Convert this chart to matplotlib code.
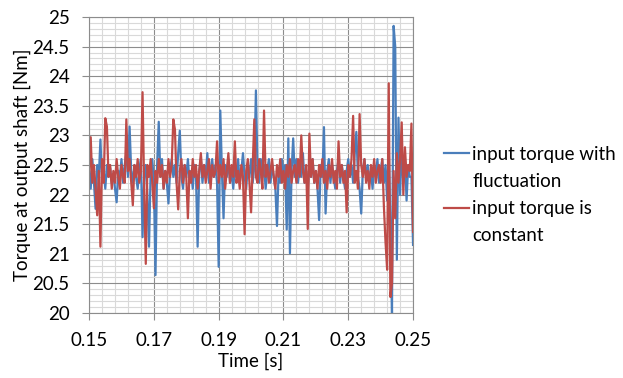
import numpy as np
import matplotlib
matplotlib.use('Agg')
import matplotlib.pyplot as plt
from matplotlib.ticker import FixedLocator
from matplotlib.lines import Line2D

plt.rcParams['font.family'] = ['Lato', 'DejaVu Sans']

# time axis: 0.15 .. 0.25 s, step 0.0005 s
time = np.linspace(0.15, 0.25, 201)

# input torque with fluctuation (blue)
torque_fluct = [
    22.4, 22.1, 22.6, 22.2, 21.76, 22.5, 22.3, 22.93, 22.2, 22.4,
    22.1, 22.5, 22.3, 22.45, 22.2, 22.35, 22.1, 21.87, 22.4, 22.3,
    22.6, 22.2, 22.5, 22.7, 22.3, 23.15, 22.4, 22.2, 22.5, 22.3,
    22.1, 22.4, 22.6, 21.28, 22.3, 22.5, 22.0, 21.12, 22.4, 22.6,
    22.2, 20.64, 22.5, 23.23, 22.3, 22.6, 22.1, 22.4, 22.2, 21.85,
    22.4, 22.6, 22.3, 22.5, 22.2, 22.7, 23.08, 22.3, 22.1, 22.5,
    22.3, 22.6, 22.2, 22.4, 22.1, 22.5, 22.3, 21.12, 22.4, 22.6,
    22.2, 22.5, 22.3, 22.7, 22.2, 22.4, 22.6, 22.3, 22.5, 22.2,
    20.78, 23.42, 22.4, 21.6, 22.5, 22.3, 22.6, 22.2, 22.4, 22.1,
    22.5, 22.3, 22.6, 22.2, 22.4, 22.7, 22.3, 22.1, 22.5, 22.3,
    22.6, 22.2, 22.5, 23.76, 22.4, 22.2, 22.6, 22.3, 22.5, 22.1,
    22.4, 22.6, 22.2, 22.5, 22.3, 22.1, 21.47, 22.4, 22.2, 22.6,
    22.3, 22.5, 21.41, 22.95, 21.01, 22.4, 22.95, 22.3, 22.6, 22.2,
    22.5, 22.3, 22.7, 22.2, 22.4, 22.1, 22.5, 22.3, 22.6, 22.2,
    22.4, 22.1, 21.57, 22.5, 22.3, 23.14, 21.68, 22.4, 22.6, 22.2,
    22.5, 22.3, 22.1, 22.4, 22.6, 22.2, 22.5, 22.3, 22.1, 22.4,
    22.6, 22.3, 22.5, 22.2, 22.7, 23.06, 22.3, 22.1, 21.68, 22.4,
    22.6, 22.3, 22.5, 22.2, 22.4, 22.1, 22.5, 22.3, 22.6, 22.2,
    22.4, 22.6, 22.2, 22.5, 21.9, 22.8, 21.5, 20.0, 24.85, 24.5,
    20.9, 23.3, 22.0, 22.8, 22.2, 22.6, 21.9, 22.5, 22.3, 22.3,
    21.15,
]

# input torque is constant (red)
torque_const = [
    22.3, 22.97, 22.2, 22.5, 22.1, 21.65, 22.4, 21.12, 22.6, 22.2,
    23.29, 23.15, 22.3, 22.5, 22.1, 22.4, 22.2, 22.6, 22.3, 22.1,
    22.5, 22.3, 22.2, 23.27, 22.4, 22.6, 22.2, 21.82, 22.5, 22.3,
    22.6, 22.2, 22.4, 23.73, 22.1, 20.83, 22.5, 22.3, 22.6, 22.2,
    21.77, 22.4, 22.2, 22.6, 22.3, 22.5, 22.1, 22.4, 22.2, 22.6,
    22.3, 22.5, 23.27, 23.1, 22.2, 21.75, 22.4, 22.6, 22.2, 22.5,
    22.3, 21.6, 22.4, 22.2, 22.6, 22.3, 22.5, 22.1, 22.4, 22.7,
    22.3, 22.5, 22.2, 22.4, 22.6, 22.1, 22.5, 22.3, 22.4, 22.9,
    22.2, 22.5, 22.3, 22.6, 22.1, 22.4, 22.7, 22.2, 22.5, 22.3,
    22.9, 22.2, 22.4, 22.1, 22.5, 22.3, 21.33, 22.4, 22.6, 22.2,
    21.7, 22.5, 23.27, 22.3, 22.2, 22.6, 22.4, 22.1, 23.42, 22.3,
    22.5, 22.2, 22.4, 22.6, 22.3, 22.1, 22.5, 22.3, 22.6, 22.2,
    22.4, 22.1, 22.5, 22.3, 22.6, 22.2, 22.4, 22.5, 22.2, 22.6,
    22.3, 23.0, 22.4, 22.2, 22.5, 21.42, 23.03, 22.3, 22.6, 22.2,
    22.4, 22.1, 22.5, 22.3, 22.6, 22.2, 22.4, 22.1, 22.5, 22.3,
    22.6, 22.2, 22.4, 22.1, 22.9, 22.3, 22.5, 22.2, 22.4, 21.7,
    22.5, 22.3, 22.6, 23.33, 22.2, 22.4, 22.1, 23.36, 22.5, 22.3,
    22.6, 22.2, 22.4, 22.1, 22.5, 22.3, 22.6, 22.2, 22.4, 22.5,
    22.2, 22.6, 21.8, 21.2, 20.73, 23.88, 20.27, 20.5, 22.4, 21.6,
    22.7, 22.2, 22.6, 23.22, 22.0, 22.8, 22.3, 22.5, 22.4, 23.2,
    21.37,
]

x_ticks = [0.15, 0.17, 0.19, 0.21, 0.23, 0.25]
x_labels = ['0.15', '0.17', '0.19', '0.21', '0.23', '0.25']
y_ticks = [20, 20.5, 21, 21.5, 22, 22.5, 23, 23.5, 24, 24.5, 25]
y_labels = ['20', '20.5', '21', '21.5', '22', '22.5', '23', '23.5', '24', '24.5', '25']

fig = plt.figure(figsize=(6.23, 3.78), dpi=100)
ax = fig.add_axes([0.143, 0.172, 0.520, 0.783])

l1, = ax.plot(time, torque_fluct, color='#4A7EBB', lw=1.6)
l2, = ax.plot(time, torque_const, color='#BE4B48', lw=1.6)

ax.set_xlim(0.15, 0.25)
ax.set_ylim(20, 25)
ax.set_xticks(x_ticks)
ax.set_xticklabels(x_labels)
ax.set_yticks(y_ticks)
ax.set_yticklabels(y_labels)
ax.xaxis.set_minor_locator(FixedLocator(np.linspace(0.15, 0.25, 26)))
ax.yaxis.set_minor_locator(FixedLocator(np.linspace(20, 25, 51)))

ax.grid(which='major', color='#8c8c8c', lw=0.8)
ax.grid(which='minor', color='#d9d9d9', lw=0.8)
ax.set_axisbelow(True)
ax.tick_params(which='minor', length=0)
ax.tick_params(which='major', length=5, color='#8c8c8c', labelsize=13.5)
ax.tick_params(axis='x', pad=9)
ax.tick_params(axis='y', pad=9)
for s in ax.spines.values():
    s.set_color('#8c8c8c')
    s.set_linewidth(0.8)

ax.set_xlabel('Time [s]', fontsize=13.5, labelpad=2)
ax.set_ylabel('Torque at output shaft [Nm]', fontsize=13.5, labelpad=1)

blank = Line2D([], [], color='none')
ax.legend([l1, blank, l2, blank],
          ['input torque with', 'fluctuation', 'input torque is', 'constant'],
          loc='upper left', bbox_to_anchor=(0.713, 0.615), bbox_transform=fig.transFigure,
          frameon=False, fontsize=13.5, handlelength=1.3, handletextpad=0.2,
          labelspacing=0.55, borderaxespad=0, borderpad=0)

fig.savefig('out.png', dpi=100)
